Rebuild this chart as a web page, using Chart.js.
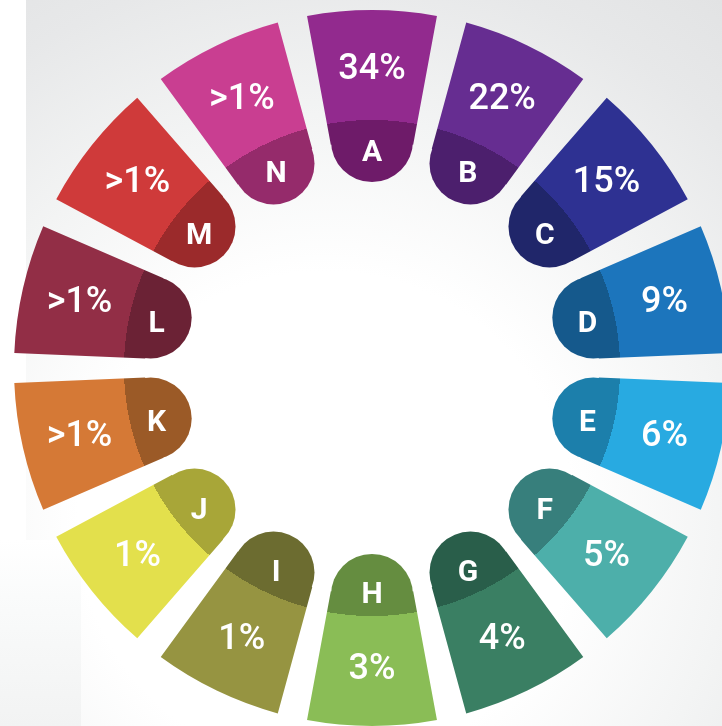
<!DOCTYPE html>
<html>
<head>
<meta charset="utf-8">
<script src="https://cdn.jsdelivr.net/npm/chart.js@4.4.1/dist/chart.umd.min.js"></script>
<style>
  html, body { margin: 0; padding: 0; width: 722px; height: 726px; overflow: hidden; background: #fff; }
  #bg {
    position: absolute; left: 26px; top: 0; right: 0; bottom: 0;
    background: radial-gradient(circle at 300px 520px, #ffffff 0%, #ffffff 38%, #f3f4f4 62%, #e7e8e9 85%, #e2e3e4 100%);
  }
  #bgCorner {
    position: absolute; left: 0; top: 540px; width: 81px; bottom: 0;
    background: linear-gradient(to top, #f2f3f3, #fafbfb 70%, #ffffff);
  }
  #wrap { position: absolute; left: -8px; top: -12px; width: 760px; height: 760px; }
</style>
</head>
<body>
<div id="bg"></div>
<div id="bgCorner"></div>
<div id="wrap"><canvas id="ringChart" width="760" height="760"></canvas></div>
<script>
  // Segments, clockwise from the top
  const letters = ['A', 'B', 'C', 'D', 'E', 'F', 'G', 'H', 'I', 'J', 'K', 'L', 'M', 'N'];
  const shares = ['34%', '22%', '15%', '9%', '6%', '5%', '4%', '3%', '1%', '1%', '>1%', '>1%', '>1%', '>1%'];
  // every slice in the picture has the same size
  const sliceSizes = [1, 1, 1, 1, 1, 1, 1, 1, 1, 1, 1, 1, 1, 1];
  const outerColors = ['#922a8e', '#662d91', '#2e3192', '#1c75bc', '#28aae1', '#4dafaa', '#3a7f63', '#8abd56',
                       '#969441', '#e3e04c', '#d57936', '#922e46', '#cf3a3a', '#c93e91'];
  const innerColors = ['#6e1b69', '#4c1f6d', '#20266a', '#15598c', '#1c7fab', '#377f7c', '#295e4a', '#658d40',
                       '#6c6c30', '#a8a638', '#9b5a27', '#6b2235', '#9b2a2b', '#952b6b'];

  // drawn radii in px (chart.js adds spacing/2 to both edges of each arc)
  const spacing = 100;
  const outerR = 358;
  const splitR = 248;
  const innerR = 227;   // the round tab hangs below this
  const tabR = 41;

  function twoTone(context) {
    const chart = context.chart;
    const area = chart.chartArea;
    const i = context.dataIndex;
    if (!area) return outerColors[i];
    const cx = (area.left + area.right) / 2;
    const cy = (area.top + area.bottom) / 2;
    const g = chart.ctx.createRadialGradient(cx, cy, 0, cx, cy, outerR + 20);
    const t = splitR / (outerR + 20);
    g.addColorStop(0, innerColors[i]);
    g.addColorStop(t, innerColors[i]);
    g.addColorStop(t, outerColors[i]);
    g.addColorStop(1, outerColors[i]);
    return g;
  }

  // round tab under the inner end of every slice
  const ringTabs = {
    id: 'ringTabs',
    beforeDatasetsDraw(chart) {
      const ctx = chart.ctx;
      const arcs = chart.getDatasetMeta(0).data;
      ctx.save();
      arcs.forEach((arc, i) => {
        const mid = (arc.startAngle + arc.endAngle) / 2;
        ctx.fillStyle = innerColors[i];
        ctx.beginPath();
        ctx.arc(arc.x + Math.cos(mid) * innerR, arc.y + Math.sin(mid) * innerR, tabR, 0, Math.PI * 2);
        ctx.fill();
      });
      ctx.restore();
    }
  };

  // Labels drawn at the middle angle of each arc
  const ringLabels = {
    id: 'ringLabels',
    afterDatasetsDraw(chart) {
      const ctx = chart.ctx;
      const arcs = chart.getDatasetMeta(0).data;
      ctx.save();
      ctx.fillStyle = '#ffffff';
      ctx.textAlign = 'center';
      ctx.textBaseline = 'middle';
      arcs.forEach((arc, i) => {
        const mid = (arc.startAngle + arc.endAngle) / 2;
        ctx.font = '500 36px Roboto';
        ctx.fillText(shares[i], arc.x + Math.cos(mid) * 300, arc.y + 2 + Math.sin(mid) * 300);
        ctx.font = '700 30px Roboto';
        ctx.fillText(letters[i], arc.x + Math.cos(mid) * 221, arc.y + 6 + Math.sin(mid) * 221);
      });
      ctx.restore();
    }
  };

  const ringCtx = document.getElementById('ringChart').getContext('2d');
  const ringChart = new Chart(ringCtx, {
    type: 'doughnut',
    data: {
      labels: letters,
      datasets: [{
        data: sliceSizes,
        backgroundColor: twoTone,
        borderWidth: 0
      }]
    },
    options: {
      responsive: false,
      animation: false,
      rotation: -360 / 28,
      radius: outerR - spacing / 2,
      cutout: ((innerR - spacing / 2) / (outerR - spacing / 2) * 100) + '%',
      spacing: spacing,
      layout: { padding: 0 },
      plugins: {
        legend: { display: false },
        tooltip: { enabled: false }
      }
    },
    plugins: [ringTabs, ringLabels]
  });
</script>
</body>
</html>
